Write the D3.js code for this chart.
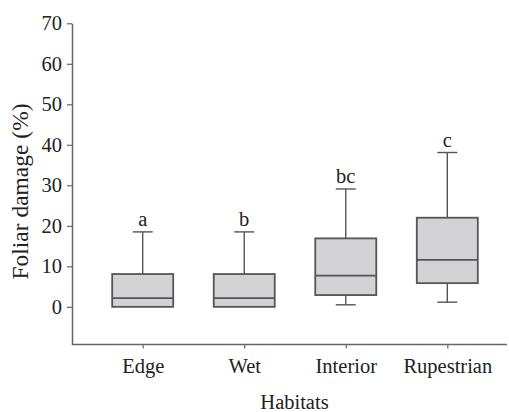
<!DOCTYPE html>
<html>
<head>
<meta charset="utf-8">
<script src="https://cdn.jsdelivr.net/npm/d3@7"></script>
<style>
  body { margin: 0; background: #fff; }
  text { font-family: "Liberation Serif", "DejaVu Serif", serif; fill: #222; }
</style>
</head>
<body>
<div id="chart"></div>
<script>
const habitats = ["Edge", "Wet", "Interior", "Rupestrian"];
const whiskerLow = [0, 0, 0.5, 1.15];
const q1 = [0, 0, 2.9, 5.85];
const median = [2.15, 2.15, 7.7, 11.6];
const q3 = [8.1, 8.1, 16.9, 22.0];
const whiskerHigh = [18.5, 18.5, 29.1, 38.1];
const letters = ["a", "b", "bc", "c"];
const yTicks = [0, 10, 20, 30, 40, 50, 60, 70];

const width = 509, height = 412;
const svg = d3.select('#chart').append('svg')
    .attr('width', width).attr('height', height);

const x = d3.scalePoint().domain(habitats).range([142.7, 447.3]);
const y = d3.scaleLinear().domain([-9.3, 70]).range([344.5, 23.3]);

const axisColor = '#666';
const boxStroke = '#555';
const fontSize = '20.5px';

// y axis
const yAxis = svg.append('g')
    .attr('transform', 'translate(72,0)')
    .call(d3.axisLeft(y).tickValues(yTicks).tickSize(5).tickSizeOuter(0).tickPadding(5));
yAxis.select('.domain').attr('stroke', axisColor).attr('stroke-width', 1.5);
yAxis.selectAll('.tick line').attr('stroke', axisColor).attr('stroke-width', 1.2);
yAxis.selectAll('.tick text')
    .style('font-family', '"Liberation Serif", serif')
    .style('font-size', fontSize).attr('fill', '#222');

// x axis
const xAxisG = svg.append('g').attr('transform', `translate(0,${y(-9.3)})`);
xAxisG.append('line').attr('x1', 72).attr('x2', 507)
    .attr('stroke', axisColor).attr('stroke-width', 1.5);
const xAxis = xAxisG.append('g')
    .call(d3.axisBottom(x).tickSize(4).tickSizeOuter(0).tickPadding(10));
xAxis.select('.domain').remove();
xAxis.selectAll('.tick line').attr('stroke', axisColor).attr('stroke-width', 1.2);
xAxis.selectAll('.tick text')
    .style('font-family', '"Liberation Serif", serif')
    .style('font-size', fontSize).attr('fill', '#222');

// boxes
const boxW = 61, capW = 20;
const data = habitats.map((h, i) => ({
    h, lo: whiskerLow[i], q1: q1[i], med: median[i], q3: q3[i], hi: whiskerHigh[i], letter: letters[i]
}));

const g = svg.append('g').selectAll('g').data(data).join('g');

// whiskers
g.append('line')
    .attr('x1', d => x(d.h)).attr('x2', d => x(d.h))
    .attr('y1', d => y(d.q3)).attr('y2', d => y(d.hi))
    .attr('stroke', boxStroke).attr('stroke-width', 1.4);
g.append('line')
    .attr('x1', d => x(d.h) - capW / 2).attr('x2', d => x(d.h) + capW / 2)
    .attr('y1', d => y(d.hi)).attr('y2', d => y(d.hi))
    .attr('stroke', boxStroke).attr('stroke-width', 1.4);
g.filter(d => d.lo < d.q1).append('line')
    .attr('x1', d => x(d.h)).attr('x2', d => x(d.h))
    .attr('y1', d => y(d.q1)).attr('y2', d => y(d.lo))
    .attr('stroke', boxStroke).attr('stroke-width', 1.4);
g.filter(d => d.lo < d.q1).append('line')
    .attr('x1', d => x(d.h) - capW / 2).attr('x2', d => x(d.h) + capW / 2)
    .attr('y1', d => y(d.lo)).attr('y2', d => y(d.lo))
    .attr('stroke', boxStroke).attr('stroke-width', 1.4);

g.append('rect')
    .attr('x', d => x(d.h) - boxW / 2).attr('width', boxW)
    .attr('y', d => y(d.q3)).attr('height', d => y(d.q1) - y(d.q3))
    .attr('fill', '#d3d3d5').attr('stroke', boxStroke).attr('stroke-width', 1.8);
g.append('line')
    .attr('x1', d => x(d.h) - boxW / 2).attr('x2', d => x(d.h) + boxW / 2)
    .attr('y1', d => y(d.med)).attr('y2', d => y(d.med))
    .attr('stroke', boxStroke).attr('stroke-width', 1.8);

g.append('text')
    .attr('x', d => x(d.h)).attr('y', d => y(d.hi) - 6)
    .attr('text-anchor', 'middle')
    .style('font-size', fontSize)
    .text(d => d.letter);

// axis titles
svg.append('text')
    .attr('x', 294.5).attr('y', 409)
    .attr('text-anchor', 'middle')
    .style('font-size', fontSize)
    .text('Habitats');
svg.append('text')
    .attr('transform', 'translate(28,191.5) rotate(-90)')
    .attr('text-anchor', 'middle')
    .style('font-size', '23.5px')
    .text('Foliar damage (%)');
</script>
</body>
</html>
